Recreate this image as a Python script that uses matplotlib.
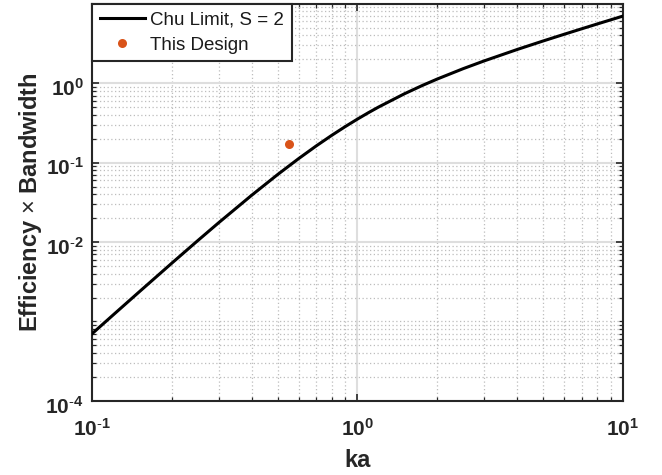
import numpy as np
import matplotlib.pyplot as plt
from matplotlib.ticker import LogLocator, NullFormatter
from matplotlib.transforms import ScaledTranslation

plt.rcParams['font.family'] = ['Liberation Sans', 'DejaVu Sans']
plt.rcParams['mathtext.fontset'] = 'custom'
plt.rcParams['mathtext.rm'] = 'Liberation Sans'
plt.rcParams['mathtext.bf'] = 'Liberation Sans:bold'

# Chu limit curve
ka = [0.1, 0.12, 0.15, 0.2, 0.25, 0.3, 0.4, 0.5, 0.6, 0.7, 0.8, 0.9, 1.0,
      1.1, 1.2, 1.5, 1.75, 2, 2.5, 3, 4, 5, 6, 7, 8, 10]
eff_bw = [7.0e-4, 1.205e-3, 2.334e-3, 5.44e-3, 0.0104, 0.01752, 0.0390,
          0.0707, 0.1123, 0.1628, 0.2208, 0.2848, 0.3536, 0.4259, 0.5008,
          0.7343, 0.9329, 1.131, 1.524, 1.909, 2.662, 3.400, 4.128, 4.851,
          5.570, 7.001]

# measured design point
design_ka = [0.552]
design_val = [0.174]

yticks = [1e-4, 1e-2, 1e-1, 1e0]
xticks = [1e-1, 1e0, 1e1]


def exp_label(t):
    e = int(np.log10(t))
    if e < 0:
        return r'$\mathbf{10^{\text{-}%d}}$' % -e
    return r'$\mathbf{10^{%d}}$' % e


fig, ax = plt.subplots(figsize=(6.62, 4.75), dpi=100)
fig.subplots_adjust(left=0.139, right=0.941, bottom=0.156, top=0.992)

ax.loglog(ka, eff_bw, color='black', lw=2.2, label='Chu Limit, S = 2', zorder=3)
ax.plot(design_ka, design_val, 'o', color='#D95319', ms=6.5, mec='none',
        label='This Design', zorder=4)

ax.set_xlim(0.1, 10)
ax.set_ylim(1e-4, 10)

ax.set_xticks(xticks)
ax.set_yticks(yticks)
ax.set_xticklabels([exp_label(t) for t in xticks])
ax.set_yticklabels([exp_label(t) for t in yticks])
ax.xaxis.set_minor_locator(LogLocator(base=10, subs=np.arange(1, 10), numticks=20))
ax.yaxis.set_minor_locator(LogLocator(base=10, subs=np.arange(1, 10), numticks=20))
ax.xaxis.set_minor_formatter(NullFormatter())
ax.yaxis.set_minor_formatter(NullFormatter())

# grid: major solid light gray, minor dotted
ax.grid(True, which='major', color='#dedede', lw=1.5, ls='-', zorder=0)
ax.grid(True, which='minor', color='#bdbdbd', lw=0.9, ls=(0, (1, 2)), zorder=0)
ax.set_axisbelow(True)

ax.tick_params(which='both', direction='in', top=True, right=True,
               colors='#262626', labelcolor='#262626', labelsize=15)
ax.tick_params(which='major', length=5, width=1.2)
ax.tick_params(which='minor', length=3, width=0.9)
ax.tick_params(axis='x', which='major', pad=12)
ax.tick_params(axis='y', which='major', pad=6)
for s in ax.spines.values():
    s.set_color('#262626')
    s.set_linewidth(1.5)

# nudge y tick labels down a little, like the reference
for lbl in ax.get_yticklabels():
    lbl.set_transform(lbl.get_transform() + ScaledTranslation(0, -2.5 / 72, fig.dpi_scale_trans))

ax.set_xlabel('ka', fontsize=17, fontweight='bold', color='#262626', labelpad=7)
ax.set_ylabel(r'Efficiency $\times$ Bandwidth', fontsize=17, fontweight='bold',
              color='#262626', labelpad=1)

leg = ax.legend(loc='upper left', fontsize=13.5, frameon=True, fancybox=False,
                borderaxespad=0, handlelength=2.4, borderpad=0.4,
                labelspacing=0.45, handletextpad=0.3)
leg.get_frame().set_edgecolor('#262626')
leg.get_frame().set_linewidth(1.5)
leg.get_frame().set_alpha(1)
for t in leg.get_texts():
    t.set_color('#1a1a1a')

fig.savefig('out.png', dpi=100)
